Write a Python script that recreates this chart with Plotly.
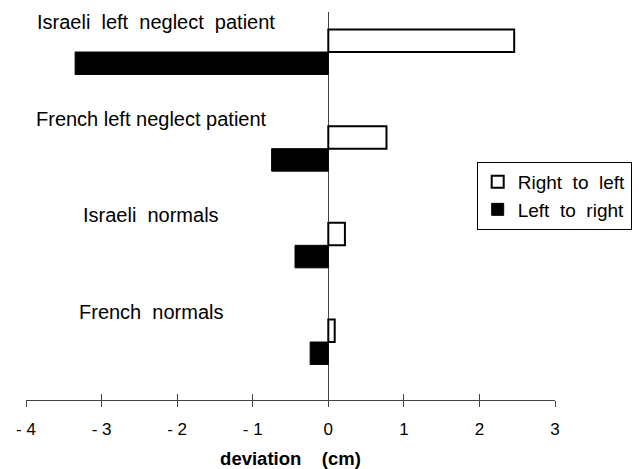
import plotly.graph_objects as go

categories = ["French normals", "Israeli normals", "French left neglect patient", "Israeli left neglect patient"]
right_to_left = [0.085, 0.22, 0.77, 2.46]
left_to_right = [-0.24, -0.44, -0.75, -3.35]
tick_vals = [-4, -3, -2, -1, 0, 1, 2, 3]
tick_text = ["- 4", "- 3", "- 2", "- 1", "0", "1", "2", "3"]
label_texts = ["French  normals", "Israeli  normals", "French left neglect patient", "Israeli  left  neglect  patient"]

FONT = "Liberation Sans, Arial, Helvetica, sans-serif"
NB = "\u00a0"

fig = go.Figure()
fig.add_trace(go.Bar(
    y=categories, x=left_to_right, orientation="h", name="Left  to  right".replace(" ", NB),
    marker=dict(color="black", line=dict(color="black", width=1)), legendrank=2,
))
fig.add_trace(go.Bar(
    y=categories, x=right_to_left, orientation="h", name="Right  to  left".replace(" ", NB),
    marker=dict(color="white", line=dict(color="black", width=2)), legendrank=1,
))

label_xshift = [0, 0, 0, 5]
for cat, txt, xs in zip(categories, label_texts, label_xshift):
    fig.add_annotation(
        x=-2.345, y=cat, yshift=30, xshift=xs, text=txt.replace(" ", NB), showarrow=False,
        xanchor="center", yanchor="middle", font=dict(size=20, color="black", family=FONT),
    )

fig.update_layout(
    width=639, height=469,
    margin=dict(l=26, r=84, t=12, b=69, autoexpand=False),
    paper_bgcolor="white", plot_bgcolor="white",
    barmode="group", bargap=0.535, bargroupgap=0,
    font=dict(family=FONT, color="black"),
    legend=dict(
        xref="container", yref="container",
        x=0.746, y=0.655, xanchor="left", yanchor="top",
        bordercolor="black", borderwidth=1, bgcolor="white",
        font=dict(size=19, family=FONT, color="black"),
        itemwidth=30, tracegroupgap=0,
    ),
    xaxis=dict(
        range=[-4, 3], tickvals=tick_vals, ticktext=tick_text, automargin=False,
        showline=True, linecolor="#444", linewidth=1,
        ticks="outside", ticklen=6, tickcolor="#444", tickwidth=1,
        showgrid=False, zeroline=True, zerolinecolor="#444", zerolinewidth=1,
        tickfont=dict(size=17, family=FONT, color="black"),
        ticklabelstandoff=8,
        title=dict(text="<b>deviation" + NB * 4 + "(cm)</b>",
                   font=dict(size=18.5, family=FONT, color="black"), standoff=14),
        fixedrange=True,
    ),
    xaxis2=dict(
        range=[-4, 3], tickvals=tick_vals, overlaying="x", anchor="y", side="bottom",
        ticks="inside", ticklen=6, tickcolor="#444", tickwidth=1, automargin=False,
        showticklabels=False, showgrid=False, zeroline=False, showline=False,
    ),
    yaxis=dict(
        type="category", categoryorder="array", categoryarray=categories, automargin=False,
        range=[-0.6, 3.414], visible=False, showgrid=False, zeroline=False,
    ),
)
# invisible trace to activate xaxis2
fig.add_trace(go.Scatter(x=[0], y=[categories[0]], xaxis="x2", mode="markers",
                         marker=dict(opacity=0), showlegend=False, hoverinfo="skip"))

fig.write_html("out.html", config={"displayModeBar": False},
               post_script="document.body.style.margin='0';document.body.style.padding='0';")
